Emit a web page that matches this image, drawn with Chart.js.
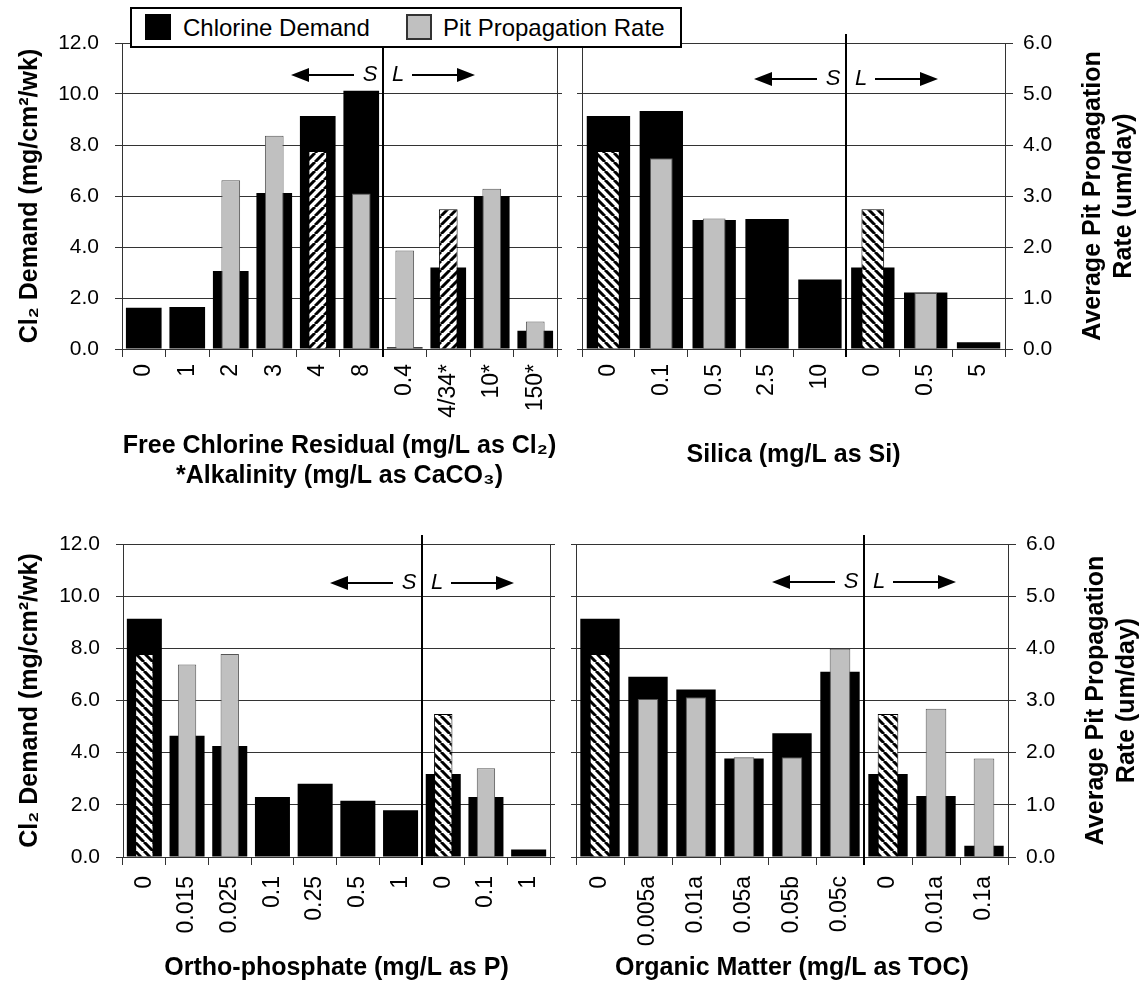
<!DOCTYPE html>
<html>
<head>
<meta charset="utf-8">
<title>Chlorine demand and pit propagation</title>
<script src="https://cdn.jsdelivr.net/npm/chart.js@4.4.1/dist/chart.umd.min.js"></script>
<style>
  html, body { margin: 0; padding: 0; background: #fff; }
  #wrap { position: relative; width: 1144px; height: 983px; overflow: hidden; font-family: 'Liberation Sans', Arial, sans-serif; }
  #wrap canvas { position: absolute; }
  #legend { position: absolute; left: 130px; top: 7px; width: 548px; height: 37px; border: 2px solid #000; background: #fff; z-index: 5; }
  #legend .sw { position: absolute; top: 5px; width: 24px; height: 24px; }
  #legend .txt { position: absolute; top: 0; line-height: 37px; font-size: 24px; color: #000; white-space: nowrap; }
</style>
</head>
<body>
<div id="wrap">
  <canvas id="chlorineChart" width="572" height="500" style="left:0;top:0;"></canvas>
  <canvas id="silicaChart" width="584" height="500" style="left:560px;top:0;"></canvas>
  <canvas id="phosphateChart" width="572" height="483" style="left:0;top:500px;"></canvas>
  <canvas id="organicChart" width="584" height="483" style="left:560px;top:500px;"></canvas>
  <div id="legend">
    <div class="sw" style="left:13px;background:#000;border:1px solid #000;"></div>
    <div class="txt" style="left:51px;">Chlorine Demand</div>
    <div class="sw" style="left:274px;background:#c0c0c0;border:2px solid #333;width:22px;height:22px;"></div>
    <div class="txt" style="left:311px;">Pit Propagation Rate</div>
  </div>
</div>
<script>
(function() {
    'use strict';

    // --- Data ---
    const leftTickLabels = ['0.0', '2.0', '4.0', '6.0', '8.0', '10.0', '12.0'];
    const rightTickLabels = ['0.0', '1.0', '2.0', '3.0', '4.0', '5.0', '6.0'];

    const chlorineCats = ['0', '1', '2', '3', '4', '8', '0.4', '4/34*', '10*', '150*'];
    const chlorineDemand = [1.62, 1.65, 3.06, 6.12, 9.14, 10.13, 0.07, 3.2, 6.0, 0.72];
    const chlorinePit = [null, null, 3.31, 4.18, 3.88, 3.05, 1.93, 2.74, 3.14, 0.54];

    const silicaCats = ['0', '0.1', '0.5', '2.5', '10', '0', '0.5', '5'];
    const silicaDemand = [9.14, 9.33, 5.06, 5.1, 2.73, 3.2, 2.22, 0.26];
    const silicaPit = [3.88, 3.74, 2.56, null, null, 2.74, 1.10, null];

    const phosphateCats = ['0', '0.015', '0.025', '0.1', '0.25', '0.5', '1', '0', '0.1', '1'];
    const phosphateDemand = [9.13, 4.65, 4.26, 2.30, 2.81, 2.16, 1.79, 3.18, 2.30, 0.29];
    const phosphatePit = [3.89, 3.69, 3.89, null, null, null, null, 2.74, 1.70, null];

    const organicCats = ['0', '0.005a', '0.01a', '0.05a', '0.05b', '0.05c', '0', '0.01a', '0.1a'];
    const organicDemand = [9.13, 6.91, 6.42, 3.78, 4.74, 7.10, 3.18, 2.34, 0.43];
    const organicPit = [3.89, 3.03, 3.06, 1.91, 1.91, 3.99, 2.74, 2.84, 1.89];

    // --- Styling ---
    const FONT = "'Liberation Sans', Arial, sans-serif";
    const LINE = '#333';
    const GRAY = '#c0c0c0';

    // diagonal hatch used for the control (0) bars
    const makeHatch = (ctx, dir) => {
        const s = 9;
        const c = document.createElement('canvas');
        c.width = s; c.height = s;
        const g = c.getContext('2d');
        g.fillStyle = '#fff';
        g.fillRect(0, 0, s, s);
        g.strokeStyle = '#000';
        g.lineWidth = 3;
        g.beginPath();
        for (let k = -1; k <= 1; k++) {
            if (dir === '/') { g.moveTo(k * s, s); g.lineTo(k * s + s, 0); }
            else { g.moveTo(k * s, 0); g.lineTo(k * s + s, s); }
        }
        g.stroke();
        return ctx.createPattern(c, 'repeat');
    };

    // --- Plugins: S | L divider with arrows, right-hand axis title ---
    const splitPlugin = {
        id: 'split',
        afterDatasetsDraw(chart, args, opts) {
            if (opts.at == null) return;
            const { ctx, chartArea } = chart;
            const x = chart.scales.x;
            const xd = Math.round((x.getPixelForValue(opts.at - 1) + x.getPixelForValue(opts.at)) / 2);
            const ay = chartArea.top + opts.arrowY;
            ctx.save();
            ctx.strokeStyle = '#000';
            ctx.fillStyle = '#000';
            ctx.lineWidth = 2;
            ctx.beginPath();
            ctx.moveTo(xd, chartArea.top - 9);
            ctx.lineTo(xd, chartArea.bottom + 8);
            ctx.stroke();

            // arrow shafts
            ctx.beginPath();
            ctx.moveTo(xd - 29, ay); ctx.lineTo(xd - 76, ay);
            ctx.moveTo(xd + 29, ay); ctx.lineTo(xd + 76, ay);
            ctx.stroke();
            // arrow heads
            ctx.beginPath();
            ctx.moveTo(xd - 92, ay); ctx.lineTo(xd - 74, ay - 7); ctx.lineTo(xd - 74, ay + 7); ctx.closePath();
            ctx.moveTo(xd + 92, ay); ctx.lineTo(xd + 74, ay - 7); ctx.lineTo(xd + 74, ay + 7); ctx.closePath();
            ctx.fill();

            ctx.font = 'italic 22px ' + FONT;
            ctx.textBaseline = 'middle';
            ctx.textAlign = 'center';
            ctx.fillText('S', xd - 13, ay);
            ctx.fillText('L', xd + 15, ay);
            ctx.restore();
        }
    };

    const sideTitlePlugin = {
        id: 'sideTitle',
        afterDraw(chart, args, opts) {
            if (!opts.lines) return;
            const { ctx, chartArea } = chart;
            const cy = (chartArea.top + chartArea.bottom) / 2;
            ctx.save();
            ctx.fillStyle = '#000';
            ctx.font = 'bold 25px ' + FONT;
            ctx.textAlign = 'center';
            ctx.textBaseline = 'middle';
            opts.lines.forEach((line, i) => {
                ctx.save();
                ctx.translate(chartArea.right + opts.offsets[i], cy);
                ctx.rotate(-Math.PI / 2);
                ctx.fillText(line, 0, 0);
                ctx.restore();
            });
            ctx.restore();
        }
    };

    Chart.register(splitPlugin, sideTitlePlugin);

    // --- Panel builder ---
    function buildPanel(cfg) {
        const ctx = document.getElementById(cfg.id).getContext('2d');
        const hatch = makeHatch(ctx, cfg.hatchDir);
        const pitFill = cfg.pit.map((v, i) => cfg.hatched.includes(i) ? hatch : GRAY);
        const pitBorder = cfg.pit.map((v, i) => cfg.hatched.includes(i) ? '#000' : '#555');
        const yTickFont = { family: FONT, size: 21 };
        const xTickFont = { family: FONT, size: 23 };
        const titleFont = { family: FONT, size: 25, weight: 'bold', lineHeight: 1.2 };

        return new Chart(ctx, {
            type: 'bar',
            data: {
                labels: cfg.labels,
                datasets: [
                    { label: 'Pit Propagation Rate', data: cfg.pit, yAxisID: 'y2', backgroundColor: pitFill, borderColor: pitBorder,
                      borderWidth: 1, barPercentage: 0.43, categoryPercentage: 1, grouped: false, order: 0 },
                    { label: 'Chlorine Demand', data: cfg.demand, yAxisID: 'y', backgroundColor: '#000', borderWidth: 0,
                      barPercentage: 0.82, categoryPercentage: 1, grouped: false, order: 1 }
                ]
            },
            options: {
                responsive: false,
                animation: false,
                devicePixelRatio: 1,
                layout: { padding: { top: cfg.top, bottom: 0, left: 0, right: 0 } },
                plugins: {
                    legend: { display: false },
                    tooltip: { enabled: false },
                    split: { at: cfg.splitAt, arrowY: cfg.arrowY },
                    sideTitle: cfg.sideTitle || {}
                },
                scales: {
                    x: {
                        offset: true,
                        grid: { offset: true, drawOnChartArea: false, tickLength: 8, color: LINE },
                        border: { display: true, color: LINE },
                        ticks: { autoSkip: false, minRotation: 90, maxRotation: 90, padding: cfg.xTickPad, color: '#000', font: xTickFont },
                        title: { display: true, text: cfg.xTitle, color: '#000', font: titleFont, padding: { top: 0, bottom: cfg.xTitlePad } },
                        afterFit: s => { s.height = cfg.xHeight; }
                    },
                    y: {
                        position: 'left',
                        min: 0, max: 12,
                        ticks: { stepSize: 2, display: cfg.leftSide, padding: 16, color: '#000', font: yTickFont,
                                 callback: (v, i) => leftTickLabels[i] },
                        grid: { color: LINE, tickLength: cfg.leftSide ? 7 : 5 },
                        border: { display: true, color: LINE },
                        title: { display: cfg.leftSide, text: 'Cl₂ Demand (mg/cm²/wk)', color: '#000', font: titleFont, padding: { top: 15, bottom: 0 } },
                        afterFit: s => { s.width = cfg.yWidth; }
                    },
                    y2: {
                        position: 'right',
                        min: 0, max: 6,
                        ticks: { stepSize: 1, display: !cfg.leftSide, padding: 10, color: '#000', font: yTickFont,
                                 callback: (v, i) => rightTickLabels[i] },
                        grid: { drawOnChartArea: false, color: LINE, tickLength: cfg.leftSide ? 5 : 8 },
                        border: { display: true, color: LINE },
                        afterFit: s => { s.width = cfg.y2Width; }
                    }
                }
            }
        });
    }

    // --- Initialization ---
    const pitTitle = { lines: ['Average Pit Propagation', 'Rate (um/day)'], offsets: [88, 119] };

    buildPanel({
        id: 'chlorineChart', labels: chlorineCats, demand: chlorineDemand, pit: chlorinePit,
        hatched: [4, 7], hatchDir: '/', splitAt: 6, arrowY: 32, leftSide: true,
        top: 43, xHeight: 151, yWidth: 122, y2Width: 15, xTitlePad: 9, xTickPad: 7,
        xTitle: ['Free Chlorine Residual (mg/L as Cl₂)', '*Alkalinity (mg/L as CaCO₃)']
    });
    buildPanel({
        id: 'silicaChart', labels: silicaCats, demand: silicaDemand, pit: silicaPit,
        hatched: [0, 5], hatchDir: '\\', splitAt: 5, arrowY: 36, leftSide: false,
        top: 43, xHeight: 151, yWidth: 22, y2Width: 139, xTitlePad: 30, xTickPad: 7,
        xTitle: 'Silica (mg/L as Si)', sideTitle: pitTitle
    });
    buildPanel({
        id: 'phosphateChart', labels: phosphateCats, demand: phosphateDemand, pit: phosphatePit,
        hatched: [0, 7], hatchDir: '\\', splitAt: 7, arrowY: 39, leftSide: true,
        top: 44, xHeight: 126, yWidth: 123, y2Width: 22, xTitlePad: 0, xTickPad: 11,
        xTitle: 'Ortho-phosphate (mg/L as P)'
    });
    buildPanel({
        id: 'organicChart', labels: organicCats, demand: organicDemand, pit: organicPit,
        hatched: [0, 6], hatchDir: '\\', splitAt: 6, arrowY: 38, leftSide: false,
        top: 44, xHeight: 126, yWidth: 16, y2Width: 136, xTitlePad: 0, xTickPad: 11,
        xTitle: 'Organic Matter (mg/L as TOC)', sideTitle: pitTitle
    });
})();
</script>
</body>
</html>
